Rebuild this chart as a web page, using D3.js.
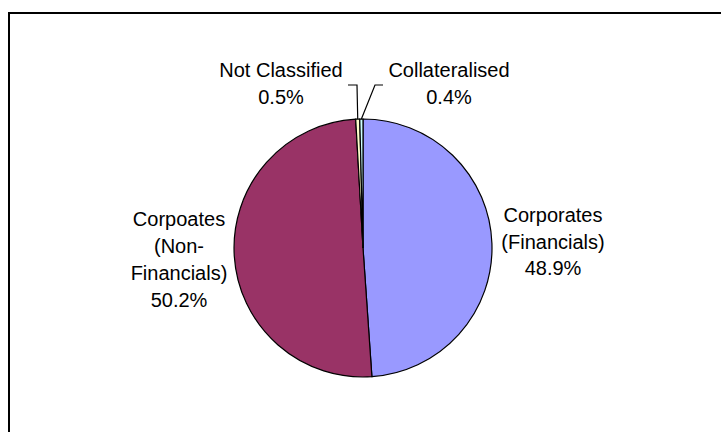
<!DOCTYPE html>
<html><head><meta charset="utf-8">
<script src="https://cdn.jsdelivr.net/npm/d3@7"></script>
<style>body{margin:0;background:#fff}svg{display:block}text{font-family:"Liberation Sans",Arial,sans-serif;font-size:20px;fill:#000}</style>
</head><body><svg id="c" width="721" height="432"></svg>
<script>
const categories = ["Corporates (Financials)", "Corpoates (Non-Financials)", "Not Classified", "Collateralised"];
const labelLines = [["Corporates","(Financials)"],["Corpoates","(Non-","Financials)"],["Not Classified"],["Collateralised"]];
const values = [48.9, 50.2, 0.5, 0.4];
const colors = ["#9999FF", "#993366", "#FFFFCC", "#CCFFFF"];

const svg = d3.select("#c");
svg.append("rect").attr("x",9).attr("y",13).attr("width",730).attr("height",440)
  .attr("fill","#fff").attr("stroke","#000").attr("stroke-width",2);

const cx = 363, cy = 248, r = 129;
const pie = d3.pie().sort(null).value(d=>d)(values);
const arc = d3.arc().innerRadius(0).outerRadius(r);
const edge = d3.arc().innerRadius(r).outerRadius(r);
const g = svg.append("g").attr("transform",`translate(${cx},${cy})`);
g.selectAll("path.s").data(pie).join("path").attr("class","s")
  .attr("d",arc).attr("fill",(d,i)=>colors[i]).attr("stroke","#000").attr("stroke-width",1.2);

// label layout (positions relative to page)
const layout = [
  {x:553, y:222, dy:26.5},
  {x:179, y:226, dy:27},
  {x:281, y:77, dy:27},
  {x:449, y:77, dy:27}
];
const leaders = {2:[[357,85],[348,85]], 3:[[375,85],[383,85]]};
pie.forEach((d,i)=>{
  const L = layout[i];
  const lines = labelLines[i].concat([d3.format(".1f")(values[i])+"%"]);
  const t = svg.append("text").attr("text-anchor","middle");
  lines.forEach((s,k)=>t.append("tspan").attr("x",L.x).attr("y",L.y+k*L.dy).text(s));
  if (leaders[i]) {
    const c = edge.centroid(d);
    const pts = [[cx+c[0], cy+c[1]]].concat(leaders[i]);
    svg.append("path").attr("d",d3.line()(pts)).attr("fill","none").attr("stroke","#000").attr("stroke-width",1.2);
  }
});
</script></body></html>
